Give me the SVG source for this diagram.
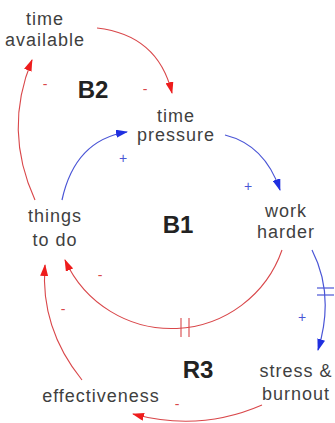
<svg xmlns="http://www.w3.org/2000/svg" width="335" height="423" viewBox="0 0 335 423">
<style>
.lbl{font-family:"Liberation Sans",Arial,sans-serif;font-size:18px;letter-spacing:1px;fill:#3f3f3f;text-anchor:middle}
.loop{font-family:"Liberation Sans",Arial,sans-serif;font-size:24px;font-weight:bold;fill:#222;text-anchor:middle}
.pol{font-family:"Liberation Sans",Arial,sans-serif;font-size:14px;text-anchor:middle}
.red{fill:none;stroke:#d9474a;stroke-width:1.1}
.blue{fill:none;stroke:#4a55d6;stroke-width:1.2}
.dr{stroke:#d9474a;stroke-width:1.1}
.db{stroke:#4a55d6;stroke-width:1.2}
</style>
<defs>
<marker id="ar" markerWidth="12" markerHeight="8" refX="11" refY="4" orient="auto" markerUnits="userSpaceOnUse">
<path d="M0,0 L12,4 L0,8 z" fill="#ee1c1c"/>
</marker>
<marker id="ab" markerWidth="12" markerHeight="8" refX="11" refY="4" orient="auto" markerUnits="userSpaceOnUse">
<path d="M0,0 L12,4 L0,8 z" fill="#1f2fe0"/>
</marker>
</defs>
<g id="connectors">
<path class="red" d="M97,28 Q158,35 172,93" marker-end="url(#ar)"/>
<path class="red" d="M35,200 Q3,130 32,60" marker-end="url(#ar)"/>
<path class="blue" d="M62,200 Q75,140 127,132" marker-end="url(#ab)"/>
<path class="blue" d="M225,135 Q265,145 280,190" marker-end="url(#ab)"/>
<path class="red" d="M282,250 A117,117 0 0 1 65,260" marker-end="url(#ar)"/>
<line class="dr" x1="181" y1="318" x2="181" y2="337"/>
<line class="dr" x1="189" y1="318" x2="189" y2="337"/>
<path class="blue" d="M312,250 Q335,295 318,350" marker-end="url(#ab)"/>
<line class="db" x1="317" y1="288" x2="334" y2="288"/>
<line class="db" x1="317" y1="295" x2="334" y2="295"/>
<path class="red" d="M262,405 Q200,432 133,414" marker-end="url(#ar)"/>
<path class="red" d="M82,380 Q40,328 45,265" marker-end="url(#ar)"/>
<text class="pol" x="145" y="94" fill="#d9474a">-</text>
<text class="pol" x="45" y="89" fill="#d9474a">-</text>
<text class="pol" x="123" y="163" fill="#4a55d6">+</text>
<text class="pol" x="248" y="191" fill="#4a55d6">+</text>
<text class="pol" x="100" y="280" fill="#d9474a">-</text>
<text class="pol" x="302" y="322" fill="#4a55d6">+</text>
<text class="pol" x="177" y="409" fill="#d9474a">-</text>
<text class="pol" x="63" y="314" fill="#d9474a">-</text>
</g>
<g id="time_available"><text class="lbl" x="45" y="25">time</text><text class="lbl" x="45" y="46">available</text></g>
<g id="time_pressure"><text class="lbl" x="176" y="122">time</text><text class="lbl" x="176" y="141">pressure</text></g>
<g id="work_harder"><text class="lbl" x="286" y="217">work</text><text class="lbl" x="286" y="238">harder</text></g>
<g id="things_to_do"><text class="lbl" x="55" y="222">things</text><text class="lbl" x="55" y="246">to do</text></g>
<g id="stress_burnout"><text class="lbl" x="296" y="377">stress &amp;</text><text class="lbl" x="296" y="400">burnout</text></g>
<g id="effectiveness"><text class="lbl" x="101" y="402">effectiveness</text></g>
<g id="loops">
<text class="loop" x="93" y="98">B2</text>
<text class="loop" x="178" y="233">B1</text>
<text class="loop" x="198" y="378">R3</text>
</g>
</svg>
